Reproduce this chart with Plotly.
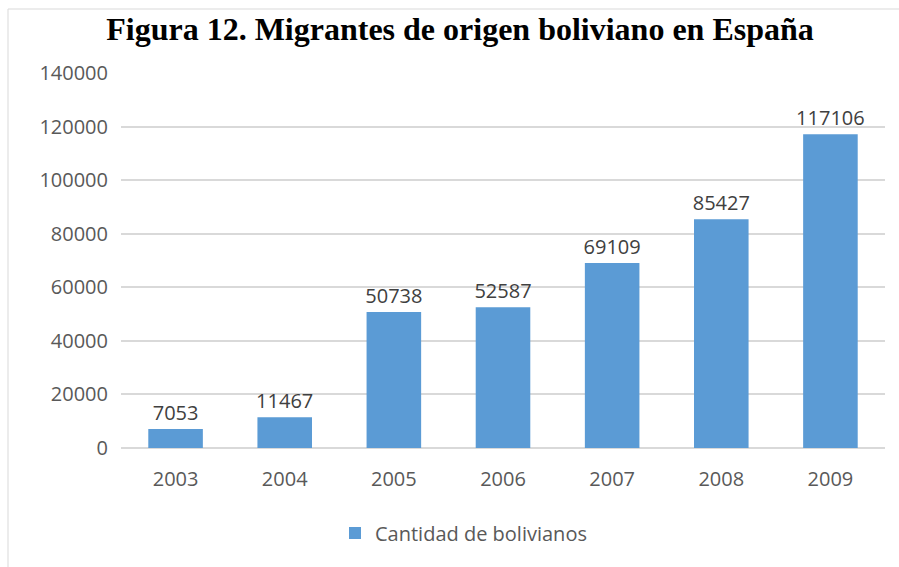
import plotly.graph_objects as go

years = ["2003", "2004", "2005", "2006", "2007", "2008", "2009"]
values = [7053, 11467, 50738, 52587, 69109, 85427, 117106]
series_name = "Cantidad de bolivianos"
title = "Figura 12. Migrantes de origen boliviano en España"

L, R, T, B = 121, 14, 73, 119
W, H = 899, 567
pw, ph = W - L - R, H - T - B

def px_x(p):
    return (p - L) / pw

def px_y(p):
    return (H - B - p) / ph

fig = go.Figure()
fig.add_trace(go.Bar(
    x=years, y=values, name=series_name,
    marker=dict(color="#5B9BD5", line=dict(width=0)),
    text=[str(v) for v in values], textposition="outside",
    textfont=dict(family="Open Sans", size=20, color="#404040"),
    constraintext="none",
    cliponaxis=False,
))

fig.update_layout(
    width=W, height=H,
    margin=dict(l=L, r=R, t=T, b=B),
    paper_bgcolor="white", plot_bgcolor="white",
    bargap=0.5,
    showlegend=True,
    legend=dict(orientation="h", x=px_x(335), xanchor="left", y=px_y(533), yanchor="middle",
                font=dict(family="Open Sans", size=20, color="#595959"), itemwidth=30),
    title=dict(text="<b>" + title + "</b>", x=460 / W, xanchor="center",
               y=1 - 29 / H, yanchor="middle",
               font=dict(family="Liberation Serif", size=32, color="black")),
    xaxis=dict(showgrid=False, showline=False, ticks="", ticklabelstandoff=17,
               tickfont=dict(family="Open Sans", size=20, color="#595959")),
    yaxis=dict(range=[0, 140000], dtick=20000, showgrid=True, gridcolor="#d9d9d9", gridwidth=1.5,
               zeroline=True, zerolinecolor="#d9d9d9", zerolinewidth=1.5, showline=False,
               ticks="", ticklabelstandoff=12, tickformat="d",
               tickfont=dict(family="Open Sans", size=20, color="#595959")),
)

# chart-area border (top and left edges visible)
fig.add_shape(type="line", xref="paper", yref="paper", x0=px_x(8), x1=px_x(899), y0=px_y(9), y1=px_y(9),
              line=dict(color="#d9d9d9", width=1))
fig.add_shape(type="line", xref="paper", yref="paper", x0=px_x(8), x1=px_x(8), y0=px_y(9), y1=px_y(567),
              line=dict(color="#d9d9d9", width=1))

fig.write_html("out.html", config={"displayModeBar": False},
               post_script="document.body.style.margin='0';")
